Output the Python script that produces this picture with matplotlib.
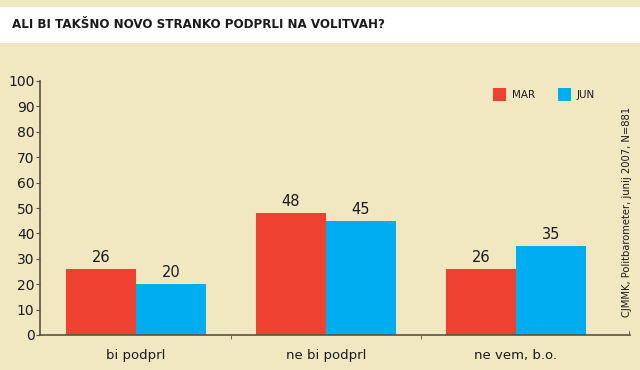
import matplotlib
matplotlib.use('Agg')
import matplotlib.pyplot as plt
import matplotlib.patches as patches
import numpy as np

categories = ['bi podprl', 'ne bi podprl', 'ne vem, b.o.']
mar = [26, 48, 26]
jun = [20, 45, 35]
series_names = ['MAR', 'JUN']
title = 'ALI BI TAKŠNO NOVO STRANKO PODPRLI NA VOLITVAH?'
source = 'CJMMK, Politbarometer, junij 2007, N=881'

bg = '#f1e8c1'
red = '#ee4130'
blue = '#00aeef'
dark = '#1a1a1a'
axcol = '#5a5242'

fig = plt.figure(figsize=(6.4, 3.7), dpi=100, facecolor=bg)

# white title band
fig.patches.append(patches.Rectangle((0, 1 - 43/370), 1, 36/370, transform=fig.transFigure,
                                     facecolor='white', edgecolor='none', zorder=0))
fig.text(12/640, 1 - 25/370, title, fontsize=8.6, fontweight='bold', color=dark,
         va='center', ha='left')

ax = fig.add_axes([40/640, 1 - 335/370, 590/640, 254/370])
ax.set_facecolor(bg)

x = np.arange(len(categories))
w = 0.368
b1 = ax.bar(x - w/2, mar, w, color=red, zorder=2)
b2 = ax.bar(x + w/2, jun, w, color=blue, zorder=2)

for bars, vals in ((b1, mar), (b2, jun)):
    for r, v in zip(bars, vals):
        ax.text(r.get_x() + r.get_width()/2, v + 1.6, str(v), ha='center', va='bottom',
                fontsize=10.5, color=dark)

ax.set_xlim(-0.505, 2.6)
ax.set_ylim(0, 100)
ax.set_yticks(range(0, 101, 10))
ax.tick_params(axis='y', labelsize=10, colors=axcol, labelcolor=dark, length=3, pad=1)
ax.set_xticks(x)
ax.set_xticklabels(categories)
ax.tick_params(axis='x', length=0, labelsize=9.5, labelcolor=dark, pad=10)
ax.set_xticks([0.5, 1.5], minor=True)
ax.tick_params(axis='x', which='minor', length=3, colors=axcol, direction='out')
# small upturn at the right end of the axis
ax.axvline(2.598, ymax=0.012, color=axcol, lw=1.2)

for s in ['top', 'right']:
    ax.spines[s].set_visible(False)
for s in ['left', 'bottom']:
    ax.spines[s].set_color(axcol)
    ax.spines[s].set_linewidth(1.2)

# legend
for i, (name, col) in enumerate(zip(series_names, [red, blue])):
    x0 = (493 + i*65)/640
    fig.patches.append(patches.Rectangle((x0, 1 - 101/370), 13/640, 13/370,
                                         transform=fig.transFigure, facecolor=col,
                                         edgecolor='none'))
    fig.text(x0 + 19/640, 1 - 95/370, name, fontsize=7.5, color=dark,
             va='center', ha='left')

fig.text(627/640, 1 - 212/370, source, rotation=90, fontsize=7.2, color=dark,
         ha='center', va='center')

fig.savefig('out.png', dpi=100, facecolor=bg)
